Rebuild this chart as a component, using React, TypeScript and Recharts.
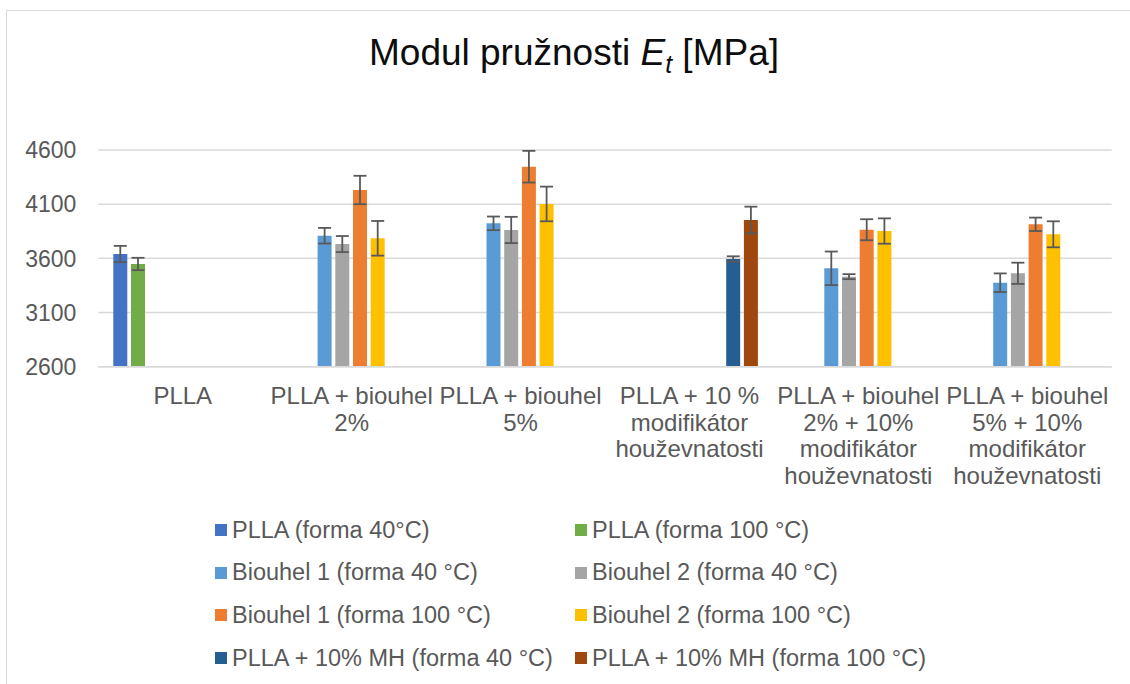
import { BarChart, Bar, XAxis, YAxis, CartesianGrid, Legend, ErrorBar } from 'recharts';

const categories = [
  'PLLA',
  'PLLA + biouhel\n2%',
  'PLLA + biouhel\n5%',
  'PLLA + 10 %\nmodifikátor\nhouževnatosti',
  'PLLA + biouhel\n2% + 10%\nmodifikátor\nhouževnatosti',
  'PLLA + biouhel\n5% + 10%\nmodifikátor\nhouževnatosti',
];

const yTicks = [2600, 3100, 3600, 4100, 4600];

// hodnoty a směrodatné odchylky, null = bez dat
const plla40 = [3640, null, null, null, null, null];
const plla40Err = [75, null, null, null, null, null];
const plla100 = [3548, null, null, null, null, null];
const plla100Err = [57, null, null, null, null, null];
const bio1_40 = [null, 3809, 3923, null, 3508, 3375];
const bio1_40Err = [null, 72, 63, null, 155, 86];
const bio2_40 = [null, 3732, 3862, null, 3431, 3462];
const bio2_40Err = [null, 74, 121, null, 23, 98];
const bio1_100 = [null, 4231, 4446, null, 3864, 3914];
const bio1_100Err = [null, 131, 146, null, 97, 62];
const bio2_100 = [null, 3785, 4102, null, 3852, 3822];
const bio2_100Err = [null, 160, 160, null, 117, 120];
const mh40 = [null, null, null, 3594, null, null];
const mh40Err = [null, null, null, 25, null, null];
const mh100 = [null, null, null, 3954, null, null];
const mh100Err = [null, null, null, 123, null, null];

const series = [
  { key: 'plla40', name: 'PLLA (forma 40°C)', color: '#4472C4', values: plla40, errors: plla40Err },
  { key: 'plla100', name: 'PLLA (forma 100 °C)', color: '#70AD47', values: plla100, errors: plla100Err },
  { key: 'bio1_40', name: 'Biouhel 1 (forma 40 °C)', color: '#5B9BD5', values: bio1_40, errors: bio1_40Err },
  { key: 'bio2_40', name: 'Biouhel 2 (forma 40 °C)', color: '#A5A5A5', values: bio2_40, errors: bio2_40Err },
  { key: 'bio1_100', name: 'Biouhel 1 (forma 100 °C)', color: '#ED7D31', values: bio1_100, errors: bio1_100Err },
  { key: 'bio2_100', name: 'Biouhel 2 (forma 100 °C)', color: '#FFC000', values: bio2_100, errors: bio2_100Err },
  { key: 'mh40', name: 'PLLA + 10% MH (forma 40 °C)', color: '#255E91', values: mh40, errors: mh40Err },
  { key: 'mh100', name: 'PLLA + 10% MH (forma 100 °C)', color: '#9E480E', values: mh100, errors: mh100Err },
];

const data = categories.map((cat, i) => {
  const row: Record<string, string | number | null> = { cat };
  series.forEach((s) => {
    row[s.key] = s.values[i];
    row[s.key + 'Err'] = s.errors[i];
  });
  return row;
});

const FONT = '"Liberation Sans", Arial, sans-serif';
const GREY = '#595959';

const CategoryTick = (props: any) => {
  const { x, y, payload } = props;
  const lines = String(payload.value).split('\n');
  return (
    <text x={x} y={y} textAnchor="middle" fill={GREY} fontSize={24} fontFamily={FONT}>
      {lines.map((line, i) => (
        <tspan key={i} x={x} dy={i === 0 ? 37.5 : 26.6}>
          {line}
        </tspan>
      ))}
    </text>
  );
};

const LegendGrid = () => (
  <div style={{ position: 'relative', width: 1130, height: 200, fontFamily: FONT }}>
    {series.map((s, i) => {
      const col = i % 2;
      const row = Math.floor(i / 2);
      return (
        <div
          key={s.key}
          style={{
            position: 'absolute',
            left: col === 0 ? 215 : 575,
            top: row * 42.7,
            height: 24,
            display: 'flex',
            alignItems: 'center',
            whiteSpace: 'nowrap',
          }}
        >
          <span style={{ width: 12, height: 12, background: s.color, display: 'inline-block', marginRight: 5 }} />
          <span style={{ fontSize: 23.5, color: GREY }}>{s.name}</span>
        </div>
      );
    })}
  </div>
);

export default function App() {
  return (
    <div style={{ position: 'absolute', left: 0, top: 0, width: 1130, height: 684, background: '#fff', fontFamily: FONT }}>
      <div
        style={{
          position: 'absolute',
          left: 6,
          top: 10,
          width: 1124,
          height: 674,
          borderLeft: '1.5px solid #d9d9d9',
          borderTop: '1.5px solid #d9d9d9',
          boxSizing: 'border-box',
        }}
      />
      <div
        style={{
          position: 'absolute',
          left: 0,
          width: 1148,
          top: 34,
          textAlign: 'center',
          fontSize: 37,
          lineHeight: '37px',
          color: '#0d0d0d',
          whiteSpace: 'nowrap',
        }}
      >
        Modul pružnosti <i>E</i>
        <i style={{ fontSize: 25, position: 'relative', top: 8 }}>t</i> [MPa]
      </div>
      <div style={{ position: 'absolute', left: 0, top: 0 }}>
        <BarChart
          width={1130}
          height={684}
          data={data}
          margin={{ top: 150, right: 18.3, left: 8.3, bottom: 167.3 }}
          barCategoryGap={15}
          barGap={3.7}
        >
          <CartesianGrid vertical={false} stroke="#d9d9d9" strokeWidth={1.5} />
          <XAxis
            dataKey="cat"
            interval={0}
            height={150}
            tick={<CategoryTick />}
            tickLine={false}
            tickSize={0}
            tickMargin={0}
            axisLine={{ stroke: '#d9d9d9', strokeWidth: 1.5 }}
          />
          <YAxis
            width={90}
            domain={[2600, 4600]}
            ticks={yTicks}
            allowDataOverflow
            axisLine={false}
            tickLine={false}
            tickSize={0}
            tickMargin={22}
            tick={{ fill: GREY, fontSize: 23, fontFamily: FONT }}
          />
          <Legend
            layout="vertical"
            align="center"
            verticalAlign="middle"
            wrapperStyle={{ position: 'absolute', left: 0, top: 518, width: 1130 }}
            content={<LegendGrid />}
          />
          {series.map((s) => (
            <Bar key={s.key} dataKey={s.key} name={s.name} fill={s.color} isAnimationActive={false}>
              <ErrorBar dataKey={s.key + 'Err'} direction="y" width={6.5} stroke={GREY} strokeWidth={1.8} />
            </Bar>
          ))}
        </BarChart>
      </div>
    </div>
  );
}
